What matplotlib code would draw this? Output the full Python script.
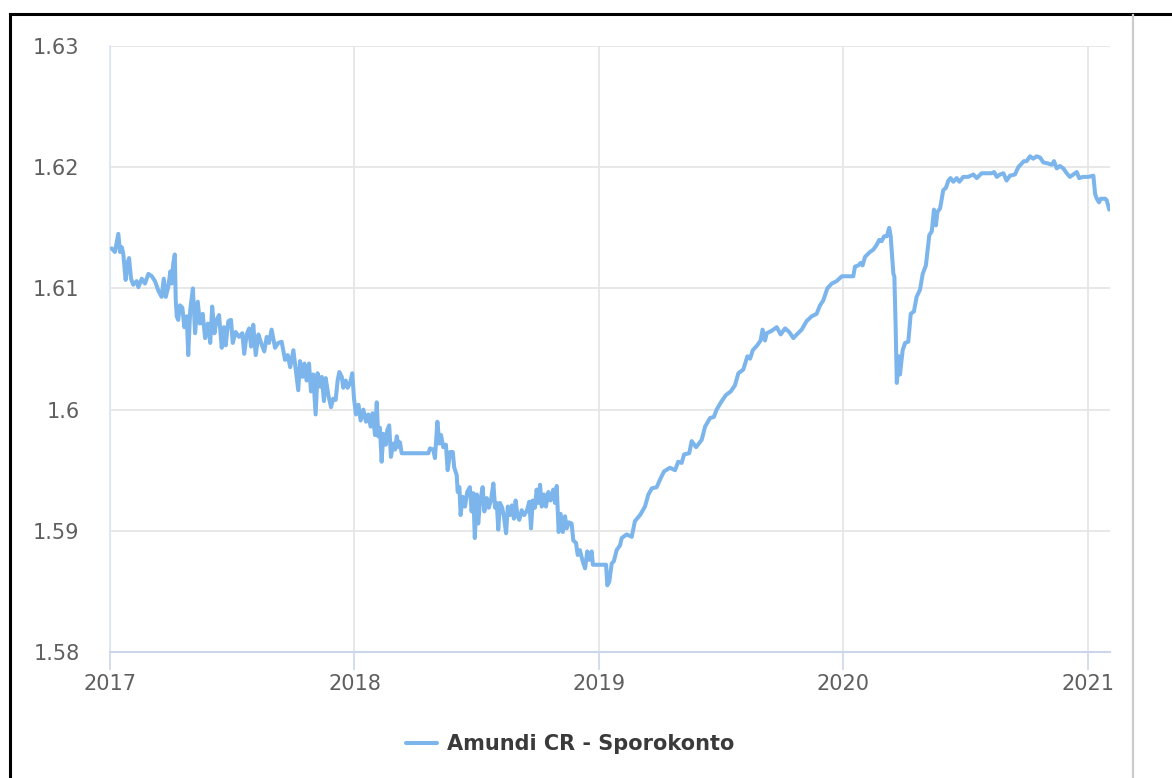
import matplotlib.pyplot as plt
from matplotlib.lines import Line2D
import numpy as np

# decimal year positions and NAV values
years = [
    2017.007, 2017.020, 2017.034, 2017.041, 2017.048, 2017.054, 2017.064, 2017.072, 2017.078, 2017.086,
    2017.095, 2017.109, 2017.116, 2017.130, 2017.143, 2017.157, 2017.171, 2017.184, 2017.198, 2017.211,
    2017.220, 2017.228, 2017.238, 2017.247, 2017.252, 2017.259, 2017.265, 2017.269, 2017.273, 2017.279,
    2017.286, 2017.296, 2017.304, 2017.314, 2017.320, 2017.328, 2017.339, 2017.348, 2017.359, 2017.368,
    2017.379, 2017.389, 2017.400, 2017.410, 2017.418, 2017.427, 2017.436, 2017.446, 2017.457, 2017.466,
    2017.473, 2017.484, 2017.495, 2017.502, 2017.514, 2017.528, 2017.541, 2017.549, 2017.559, 2017.569,
    2017.577, 2017.586, 2017.596, 2017.607, 2017.618, 2017.631, 2017.641, 2017.650, 2017.661, 2017.675,
    2017.688, 2017.702, 2017.716, 2017.727, 2017.737, 2017.750, 2017.759, 2017.770, 2017.777, 2017.787,
    2017.795, 2017.804, 2017.814, 2017.822, 2017.831, 2017.841, 2017.849, 2017.859, 2017.866, 2017.875,
    2017.882, 2017.893, 2017.904, 2017.913, 2017.923, 2017.931, 2017.938, 2017.948, 2017.954, 2017.964,
    2017.972, 2017.982, 2017.991, 2017.998, 2018.006, 2018.016, 2018.025, 2018.036, 2018.047, 2018.056,
    2018.066, 2018.074, 2018.084, 2018.091, 2018.097, 2018.104, 2018.111, 2018.118, 2018.128, 2018.134,
    2018.142, 2018.149, 2018.159, 2018.166, 2018.173, 2018.181, 2018.186, 2018.193, 2018.302, 2018.309,
    2018.322, 2018.329, 2018.339, 2018.347, 2018.354, 2018.363, 2018.374, 2018.381, 2018.391, 2018.402,
    2018.408, 2018.418, 2018.422, 2018.429, 2018.434, 2018.443, 2018.452, 2018.461, 2018.472, 2018.479,
    2018.486, 2018.492, 2018.500, 2018.506, 2018.513, 2018.524, 2018.531, 2018.541, 2018.549, 2018.558,
    2018.568, 2018.575, 2018.582, 2018.588, 2018.595, 2018.604, 2018.611, 2018.620, 2018.627, 2018.636,
    2018.644, 2018.652, 2018.659, 2018.667, 2018.674, 2018.684, 2018.694, 2018.704, 2018.715, 2018.722,
    2018.729, 2018.738, 2018.745, 2018.752, 2018.759, 2018.766, 2018.775, 2018.783, 2018.793, 2018.802,
    2018.813, 2018.820, 2018.827, 2018.835, 2018.843, 2018.852, 2018.861, 2018.868, 2018.877, 2018.888,
    2018.895, 2018.906, 2018.913, 2018.922, 2018.933, 2018.943, 2018.952, 2018.960, 2018.970, 2018.975,
    2019.029, 2019.034, 2019.042, 2019.052, 2019.061, 2019.072, 2019.086, 2019.093, 2019.113, 2019.134,
    2019.147, 2019.168, 2019.188, 2019.202, 2019.216, 2019.236, 2019.249, 2019.266, 2019.290, 2019.311,
    2019.324, 2019.338, 2019.348, 2019.369, 2019.379, 2019.397, 2019.420, 2019.434, 2019.454, 2019.470,
    2019.481, 2019.502, 2019.519, 2019.539, 2019.556, 2019.570, 2019.590, 2019.607, 2019.618, 2019.629,
    2019.647, 2019.661, 2019.669, 2019.679, 2019.686, 2019.706, 2019.727, 2019.743, 2019.761, 2019.778,
    2019.795, 2019.809, 2019.829, 2019.849, 2019.870, 2019.890, 2019.904, 2019.917, 2019.934, 2019.952,
    2019.972, 2019.993, 2020.040, 2020.047, 2020.061, 2020.070, 2020.078, 2020.088, 2020.108, 2020.122,
    2020.136, 2020.146, 2020.156, 2020.166, 2020.177, 2020.187, 2020.193, 2020.204, 2020.208, 2020.213,
    2020.218, 2020.227, 2020.231, 2020.242, 2020.252, 2020.265, 2020.275, 2020.288, 2020.299, 2020.313,
    2020.324, 2020.337, 2020.351, 2020.361, 2020.370, 2020.378, 2020.384, 2020.395, 2020.408, 2020.419,
    2020.429, 2020.438, 2020.449, 2020.463, 2020.474, 2020.490, 2020.510, 2020.531, 2020.545, 2020.565,
    2020.586, 2020.606, 2020.616, 2020.627, 2020.640, 2020.654, 2020.667, 2020.681, 2020.701, 2020.715,
    2020.729, 2020.738, 2020.749, 2020.763, 2020.776, 2020.790, 2020.804, 2020.817, 2020.838, 2020.852,
    2020.861, 2020.872, 2020.885, 2020.899, 2020.913, 2020.926, 2020.940, 2020.954, 2020.964, 2020.980,
    2021.001, 2021.022, 2021.029, 2021.036, 2021.045, 2021.052, 2021.070, 2021.076, 2021.087,
]
nav = [
    1.6133, 1.6130, 1.6145, 1.6130, 1.6134, 1.6129, 1.6107, 1.6121, 1.6125, 1.6108,
    1.6103, 1.6106, 1.6101, 1.6108, 1.6104, 1.6112, 1.6110, 1.6106, 1.6098, 1.6093,
    1.6108, 1.6093, 1.6101, 1.6114, 1.6104, 1.6121, 1.6128, 1.6090, 1.6077, 1.6074,
    1.6086, 1.6084, 1.6068, 1.6077, 1.6045, 1.6082, 1.6100, 1.6063, 1.6089, 1.6071,
    1.6079, 1.6059, 1.6071, 1.6055, 1.6085, 1.6063, 1.6074, 1.6078, 1.6051, 1.6068,
    1.6053, 1.6073, 1.6074, 1.6055, 1.6064, 1.6060, 1.6063, 1.6046, 1.6062, 1.6067,
    1.6052, 1.6070, 1.6045, 1.6062, 1.6055, 1.6048, 1.6060, 1.6055, 1.6066, 1.6051,
    1.6055, 1.6056, 1.6041, 1.6045, 1.6035, 1.6049, 1.6034, 1.6016, 1.6040, 1.6027,
    1.6038, 1.6024, 1.6038, 1.6015, 1.6029, 1.5996, 1.6030, 1.6019, 1.6027, 1.6007,
    1.6026, 1.6012, 1.6002, 1.6009, 1.6008, 1.6024, 1.6031, 1.6027, 1.6018, 1.6024,
    1.6018, 1.6022, 1.6030, 1.6009, 1.5996, 1.6004, 1.5991, 1.6000, 1.5990, 1.5996,
    1.5986, 1.5997, 1.5979, 1.6006, 1.5978, 1.5985, 1.5957, 1.5980, 1.5971, 1.5983,
    1.5987, 1.5961, 1.5972, 1.5967, 1.5978, 1.5969, 1.5973, 1.5964, 1.5964, 1.5968,
    1.5967, 1.5960, 1.5990, 1.5972, 1.5979, 1.5969, 1.5971, 1.5950, 1.5965, 1.5965,
    1.5952, 1.5946, 1.5932, 1.5936, 1.5913, 1.5928, 1.5920, 1.5932, 1.5936, 1.5916,
    1.5931, 1.5894, 1.5930, 1.5906, 1.5923, 1.5936, 1.5916, 1.5927, 1.5919, 1.5925,
    1.5939, 1.5919, 1.5923, 1.5901, 1.5923, 1.5919, 1.5912, 1.5898, 1.5920, 1.5913,
    1.5921, 1.5910, 1.5925, 1.5912, 1.5909, 1.5917, 1.5913, 1.5916, 1.5924, 1.5902,
    1.5925, 1.5919, 1.5934, 1.5923, 1.5938, 1.5920, 1.5930, 1.5920, 1.5932, 1.5925,
    1.5934, 1.5923, 1.5937, 1.5899, 1.5914, 1.5899, 1.5912, 1.5902, 1.5907, 1.5906,
    1.5892, 1.5890, 1.5880, 1.5884, 1.5875, 1.5869, 1.5883, 1.5876, 1.5883, 1.5872,
    1.5872, 1.5855, 1.5858, 1.5873, 1.5875, 1.5884, 1.5888, 1.5894, 1.5897, 1.5895,
    1.5908, 1.5913, 1.5920, 1.5930, 1.5935, 1.5936, 1.5942, 1.5949, 1.5952, 1.5950,
    1.5957, 1.5956, 1.5963, 1.5964, 1.5974, 1.5969, 1.5975, 1.5986, 1.5993, 1.5994,
    1.6000, 1.6007, 1.6012, 1.6015, 1.6020, 1.6030, 1.6033, 1.6044, 1.6042, 1.6049,
    1.6053, 1.6057, 1.6066, 1.6057, 1.6063, 1.6065, 1.6068, 1.6062, 1.6067, 1.6064,
    1.6059, 1.6062, 1.6066, 1.6073, 1.6077, 1.6079, 1.6086, 1.6090, 1.6100, 1.6104,
    1.6106, 1.6110, 1.6110, 1.6118, 1.6119, 1.6121, 1.6119, 1.6126, 1.6130, 1.6132,
    1.6136, 1.6140, 1.6139, 1.6143, 1.6143, 1.6150, 1.6143, 1.6112, 1.6110, 1.6071,
    1.6022, 1.6044, 1.6029, 1.6049, 1.6055, 1.6056, 1.6079, 1.6081, 1.6093, 1.6099,
    1.6112, 1.6119, 1.6144, 1.6147, 1.6165, 1.6152, 1.6163, 1.6166, 1.6181, 1.6183,
    1.6189, 1.6191, 1.6188, 1.6191, 1.6188, 1.6192, 1.6192, 1.6194, 1.6191, 1.6195,
    1.6195, 1.6195, 1.6196, 1.6192, 1.6194, 1.6195, 1.6189, 1.6193, 1.6194, 1.6200,
    1.6203, 1.6205, 1.6205, 1.6209, 1.6207, 1.6209, 1.6208, 1.6204, 1.6203, 1.6202,
    1.6205, 1.6199, 1.6201, 1.6199, 1.6195, 1.6192, 1.6194, 1.6196, 1.6191, 1.6192,
    1.6192, 1.6193, 1.6178, 1.6174, 1.6171, 1.6174, 1.6174, 1.6173, 1.6165,
]

year_ticks = [2017, 2018, 2019, 2020, 2021]
y_ticks = [1.58, 1.59, 1.6, 1.61, 1.62, 1.63]
y_labels = ["1.58", "1.59", "1.6", "1.61", "1.62", "1.63"]
series_name = "Amundi CR - Sporokonto"

fig = plt.figure(figsize=(11.72, 7.78), dpi=100)
ax = fig.add_axes([110 / 1172, 1 - 652 / 778, 1000 / 1172, 606 / 778])

ax.plot(years, nav, color="#7cb5ec", linewidth=2.9, label=series_name,
        solid_joinstyle="round", solid_capstyle="round", zorder=3)

ax.set_xlim(2017, 2021.09)
ax.set_ylim(1.58, 1.63)
ax.set_xticks(year_ticks)
ax.set_xticklabels([str(y) for y in year_ticks])
ax.set_yticks(y_ticks)
ax.set_yticklabels(y_labels)

ax.grid(True, color="#e6e6e6", linewidth=1.3, zorder=0)
ax.set_axisbelow(True)
for side in ["top", "right"]:
    ax.spines[side].set_visible(False)
ax.spines["left"].set_color("#dde4f2")
ax.spines["left"].set_linewidth(1.2)
ax.spines["bottom"].set_color("#ccd6eb")
ax.spines["bottom"].set_linewidth(1.5)

ax.tick_params(axis="y", length=0, pad=22, labelsize=15, labelcolor="#5f5f5f")
ax.tick_params(axis="x", length=13, width=1.2, color="#ccd6eb", pad=3,
               labelsize=15, labelcolor="#5f5f5f")

fig.legend(loc="center", bbox_to_anchor=(570 / 1172, 1 - 744 / 778), frameon=False,
           handlelength=1.5, handletextpad=0.45,
           prop={"weight": "bold", "size": 15})
for t in fig.legends[0].get_texts():
    t.set_color("#3a3a3a")

# outer frame of the screenshot
fig.add_artist(Line2D([10 / 1172, 1], [1 - 14 / 778, 1 - 14 / 778], color="black", linewidth=2.2))
fig.add_artist(Line2D([10 / 1172, 10 / 1172], [0, 1 - 14 / 778], color="black", linewidth=2.2))
fig.add_artist(Line2D([1133 / 1172, 1133 / 1172], [0, 1 - 15 / 778], color="#cccccc", linewidth=1.6))

fig.savefig("out.png", dpi=100)
